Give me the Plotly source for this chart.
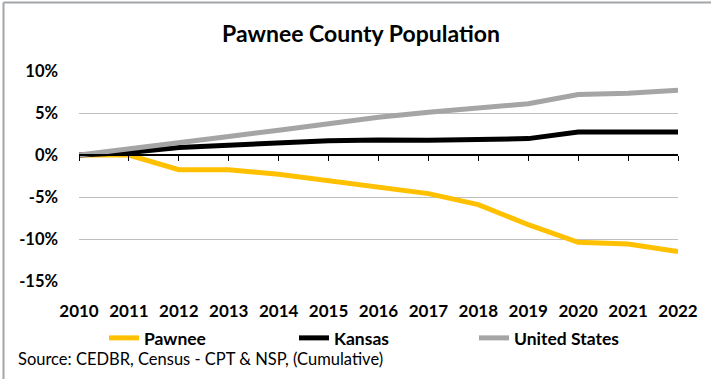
import plotly.graph_objects as go

years = [2010, 2011, 2012, 2013, 2014, 2015, 2016, 2017, 2018, 2019, 2020, 2021, 2022]
pawnee = [0.0, 0.0, -1.75, -1.75, -2.3, -3.1, -3.9, -4.6, -5.9, -8.3, -10.4, -10.6, -11.5]
kansas = [0.0, 0.3, 0.9, 1.2, 1.45, 1.7, 1.8, 1.75, 1.85, 1.95, 2.75, 2.75, 2.75]
united_states = [0.0, 0.7, 1.5, 2.2, 2.95, 3.7, 4.5, 5.1, 5.6, 6.1, 7.2, 7.35, 7.7]
y_ticks = [10, 5, 0, -5, -10, -15]
y_labels = ["10%", "5%", "0%", "-5%", "-10%", "-15%"]
series_names = ["Pawnee", "Kansas", "United States"]
series_colors = ["#FFC000", "#000000", "#A5A5A5"]

FONT = "Lato"
W, H = 711, 379
L, R, T, B = 79, 33, 71, 98
pw, ph = W - L - R, H - T - B

def px_x(p):
    return (p - L) / pw

def px_y(p):
    return (H - B - p) / ph

fig = go.Figure()
legend_ids = ["legend", "legend2", "legend3"]
text_x = [144, 334, 514]
for name, vals, col, lg in zip(series_names, [pawnee, kansas, united_states],
                               series_colors, legend_ids):
    fig.add_trace(go.Scatter(x=years, y=vals, name="<b>" + name + "</b>", mode="lines",
                             line=dict(color=col, width=5), legend=lg))

# invisible trace on secondary x axis (draws the axis line + ticks at zero)
fig.add_trace(go.Scatter(x=years, y=[0] * len(years), xaxis="x2", mode="lines",
                         line=dict(width=0), showlegend=False, hoverinfo="skip"))

legend_common = dict(orientation="h", xanchor="left", yanchor="middle",
                     y=px_y(338), font=dict(size=17.5, family=FONT),
                     itemwidth=30, bgcolor="rgba(0,0,0,0)")
legends = {}
for lg, tx in zip(legend_ids, text_x):
    legends[lg] = dict(legend_common, x=px_x(tx - 40))

border = "#A2A6AA"
fig.update_layout(
    width=W, height=H,
    margin=dict(l=L, r=R, t=T, b=B),
    paper_bgcolor="white", plot_bgcolor="white",
    font=dict(family=FONT, color="#000000"),
    title=dict(text="<b>Pawnee County Population</b>", x=361 / W, xanchor="center",
               y=1 - 34 / H, yanchor="middle", font=dict(size=23, family=FONT)),
    xaxis=dict(range=[2010, 2022], tickvals=years, ticktext=["<b>%d</b>" % y for y in years],
               showgrid=False, zeroline=False, showline=False, ticks="",
               tickfont=dict(size=17, family=FONT), ticklabelstandoff=18),
    xaxis2=dict(overlaying="x", matches="x", anchor="free", position=15 / 25,
                showline=True, linecolor="#000000", linewidth=1.5, ticks="outside",
                ticklen=5, tickcolor="#000000", tickvals=years, showticklabels=False,
                showgrid=False, zeroline=False),
    yaxis=dict(range=[-15, 10], tickvals=y_ticks, ticktext=["<b>%s</b>" % s for s in y_labels],
               showgrid=True, gridcolor="#BFBFBF", gridwidth=1, zeroline=False,
               showline=False, tickfont=dict(size=16.5, family=FONT), ticklabelstandoff=20),
    showlegend=True,
    annotations=[dict(text="Source: CEDBR, Census - CPT & NSP, (Cumulative)", xref="paper",
                      yref="paper", x=px_x(16), y=px_y(359), xanchor="left", yanchor="middle",
                      showarrow=False, font=dict(size=16.5, family=FONT))],
    shapes=[
        dict(type="line", xref="paper", yref="paper", x0=px_x(3.5), x1=px_x(3.5),
             y0=px_y(2.5), y1=px_y(379), line=dict(color=border, width=2), layer="above"),
        dict(type="line", xref="paper", yref="paper", x0=px_x(3.5), x1=px_x(711),
             y0=px_y(2.5), y1=px_y(2.5), line=dict(color=border, width=2), layer="above"),
    ],
    **legends,
)

fig.write_html("out.html", config={"displayModeBar": False},
               post_script="document.body.style.margin='0';")
